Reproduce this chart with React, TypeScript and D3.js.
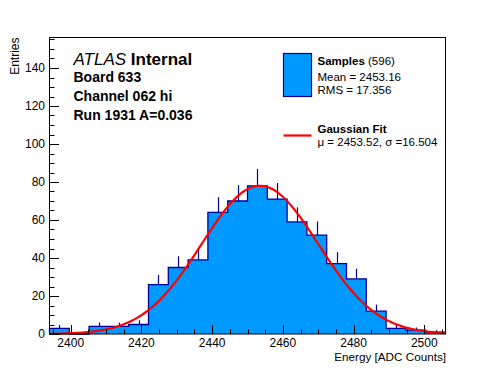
import React, { useEffect, useRef } from 'react';
import * as d3 from 'd3';

// histogram: 20 bins of 5.6 ADC counts starting at 2394
const binStart = 2394;
const binWidth = 5.6;
const counts = [3, 0, 4, 4, 5, 26, 35, 39, 64, 70, 78, 71, 59, 52, 37, 29, 12, 3, 2, 1];

// gaussian fit parameters (from the legend) and fitted height
const fitMu = 2453.52;
const fitSigma = 16.504;
const fitAmp = 78;

const xTicks = [2400, 2420, 2440, 2460, 2480, 2500];
const yTicks = [0, 20, 40, 60, 80, 100, 120, 140];

const infoLines = ['Board 633', 'Channel 062 hi', 'Run 1931 A=0.036'];

const W = 496, H = 372;
const FILL = '#0099ff';
const EDGE = '#000099';
const FONT = '"Liberation Sans", Arial, Helvetica, sans-serif';

const App = () => {
    const ref = useRef<SVGSVGElement>(null);

    useEffect(() => {
        const svg = d3.select(ref.current);
        svg.selectAll('*').remove();

        const x = d3.scaleLinear().domain([2394, 2506]).range([49.5, 445.5]);
        const y = d3.scaleLinear().domain([0, 156]).range([334, 37.6]);

        const g = svg.append('g');

        // filled histogram
        const pts: [number, number][] = [[binStart, 0]];
        counts.forEach((c, i) => {
            const lo = binStart + i * binWidth;
            pts.push([lo, c]);
            pts.push([lo + binWidth, c]);
        });
        pts.push([binStart + counts.length * binWidth, 0]);
        const step = d3.line<[number, number]>().x(d => x(d[0])).y(d => y(d[1]));
        g.append('path').attr('d', step(pts) + 'Z').attr('fill', FILL).attr('stroke', 'none');
        g.append('path').attr('d', step(pts)).attr('fill', 'none')
            .attr('stroke', EDGE).attr('stroke-width', 1.3);

        // upper error bars
        counts.forEach((c, i) => {
            if (c <= 0) return;
            const cx = Math.round(x(binStart + (i + 0.5) * binWidth)) + 0.5;
            g.append('line').attr('x1', cx).attr('x2', cx)
                .attr('y1', y(c)).attr('y2', y(c + Math.sqrt(c)))
                .attr('stroke', EDGE).attr('stroke-width', 1.2);
        });

        // fit curve
        const gauss = (v: number) => fitAmp * Math.exp(-((v - fitMu) ** 2) / (2 * fitSigma * fitSigma));
        const xs = d3.range(2394, 2506.01, 0.5);
        const curve = d3.line<number>().x(v => x(v)).y(v => y(gauss(v)));
        g.append('path').attr('d', curve(xs)).attr('fill', 'none')
            .attr('stroke', '#ff0000').attr('stroke-width', 2.2);

        // frame
        g.append('rect').attr('x', 49.5).attr('y', 37.5).attr('width', 396).attr('height', 296.5)
            .attr('fill', 'none').attr('stroke', '#000').attr('stroke-width', 1);

        // x ticks
        d3.range(2395, 2506, 5).forEach(v => {
            const major = v % 20 === 0;
            const px = Math.round(x(v)) + 0.5;
            g.append('line').attr('x1', px).attr('x2', px).attr('y1', 334).attr('y2', major ? 325 : 329.5)
                .attr('stroke', '#000');
        });
        xTicks.forEach(v => {
            g.append('text').attr('x', x(v)).attr('y', 346.5).attr('text-anchor', 'middle')
                .attr('font-size', 12).attr('font-family', FONT).text(v);
        });

        // y ticks
        d3.range(0, 156, 5).forEach(v => {
            const major = v % 20 === 0;
            const py = Math.round(y(v)) + 0.5;
            g.append('line').attr('x1', 49.5).attr('x2', major ? 59 : 54.5).attr('y1', py).attr('y2', py)
                .attr('stroke', '#000');
        });
        yTicks.forEach(v => {
            g.append('text').attr('x', 45).attr('y', y(v) + 4.3).attr('text-anchor', 'end')
                .attr('font-size', 12).attr('font-family', FONT).text(v);
        });

        // axis titles
        g.append('text').attr('x', 446).attr('y', 360.5).attr('text-anchor', 'end')
            .attr('font-size', 11.7).attr('font-family', FONT).text('Energy [ADC Counts]');
        g.append('text').attr('transform', 'translate(18.5,37.5) rotate(-90)').attr('text-anchor', 'end')
            .attr('font-size', 12).attr('font-family', FONT).text('Entries');

        // ATLAS label
        const atlas = g.append('text').attr('x', 73.5).attr('y', 65)
            .attr('font-size', 17).attr('font-family', FONT);
        atlas.append('tspan').attr('font-style', 'italic').text('ATLAS');
        atlas.append('tspan').attr('font-weight', 'bold').text(' Internal');
        infoLines.forEach((t, i) => {
            g.append('text').attr('x', 73.5).attr('y', 81.5 + i * 19)
                .attr('font-size', 14).attr('font-weight', 'bold').attr('font-family', FONT).text(t);
        });

        // legend
        g.append('rect').attr('x', 283.5).attr('y', 53.5).attr('width', 28).attr('height', 43)
            .attr('fill', FILL).attr('stroke', EDGE).attr('stroke-width', 1.2);
        const s = g.append('text').attr('x', 317.5).attr('y', 65)
            .attr('font-size', 11.5).attr('font-family', FONT);
        s.append('tspan').attr('font-weight', 'bold').text('Samples');
        s.append('tspan').text(' (596)');
        g.append('text').attr('x', 317.5).attr('y', 80.5).attr('font-size', 11.5)
            .attr('font-family', FONT).text('Mean = 2453.16');
        g.append('text').attr('x', 317.5).attr('y', 94).attr('font-size', 11.5)
            .attr('font-family', FONT).text('RMS = 17.356');

        g.append('line').attr('x1', 283.5).attr('x2', 311.5).attr('y1', 135.5).attr('y2', 135.5)
            .attr('stroke', '#ff0000').attr('stroke-width', 2.2);
        g.append('text').attr('x', 317.5).attr('y', 133).attr('font-size', 11.5).attr('font-weight', 'bold')
            .attr('font-family', FONT).text('Gaussian Fit');
        g.append('text').attr('x', 317.5).attr('y', 145.5).attr('font-size', 11.5)
            .attr('font-family', FONT).text('\u03bc = 2453.52, \u03c3 =16.504');
    }, []);

    return (
        <svg ref={ref} width={W} height={H}
            style={{ position: 'absolute', left: 0, top: 0, background: '#fff' }} />
    );
};

export default App;
